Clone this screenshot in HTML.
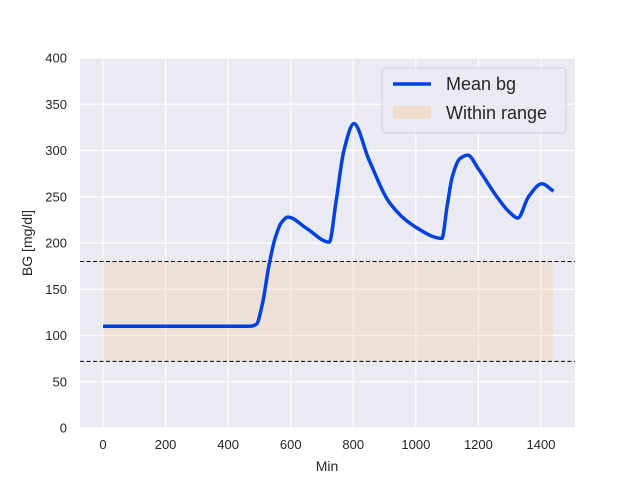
<!DOCTYPE html>
<html><head><meta charset="utf-8"><style>
body{margin:0;background:#fff;font-family:"Liberation Sans","DejaVu Sans",sans-serif}
</style></head><body>
<svg id="c" width="640" height="480" xmlns="http://www.w3.org/2000/svg" font-family="Liberation Sans, DejaVu Sans, sans-serif">
<rect x="80" y="58" width="495" height="370" fill="#eaeaf2"/>
<g id="grid"></g>
<g id="band"></g>
<g id="series"></g>
<g id="ticks" font-size="13" fill="#262626"></g>
<text x="327" y="471" text-anchor="middle" font-size="14" fill="#262626">Min</text>
<text transform="translate(32,243) rotate(-90)" text-anchor="middle" font-size="14" fill="#262626">BG [mg/dl]</text>
<g>
<rect x="382" y="68" width="184" height="65" rx="4" fill="#eaeaf2" fill-opacity="0.8" stroke="#d0d0d8"/>
<line x1="393" y1="84" x2="431" y2="84" stroke="#0041e0" stroke-width="3.5"/>
<text x="446" y="90" font-size="18" fill="#262626">Mean bg</text>
<rect x="393" y="106" width="38" height="13" fill="#efdccd"/>
<text x="446" y="119" font-size="18" fill="#262626">Within range</text>
</g>
</svg>
<script>
const minutes=[0,100,200,300,400,470,490,510,530,550,570,591,650,723,745,770,802,850,917,991,1083,1100,1116,1140,1166,1200,1259,1300,1326,1360,1403,1440];
const meanBg=[110,110,110,110,110,110,112,135,175,205,222,228,216,201,245,300,329,290,243,219,205,240,271,291,295,280,250,233,227,250,264,256];
const rangeLow=72, rangeHigh=180;
const xTicks=[0,200,400,600,800,1000,1200,1400];
const yTicks=[0,50,100,150,200,250,300,350,400];
const X=v=>103+v*438/1400, Y=v=>428-v*0.925;
const NS="http://www.w3.org/2000/svg";
function mk(t,a,p){const e=document.createElementNS(NS,t);for(const k in a)e.setAttribute(k,a[k]);p.appendChild(e);return e;}
const g=document.getElementById('grid'),tk=document.getElementById('ticks');
xTicks.forEach(v=>{const l=mk('line',{x1:X(v),x2:X(v),y1:58,y2:428,stroke:'#fff','stroke-width':1.2},g);


const t=mk('text',{x:X(v),y:449,'text-anchor':'middle'},tk);t.textContent=v;

});
yTicks.forEach(v=>{const l=mk('line',{x1:80,x2:575,y1:Y(v),y2:Y(v),stroke:'#fff','stroke-width':1.2},g);


const t=mk('text',{x:67,y:Y(v)+4.5,'text-anchor':'end'},tk);t.textContent=v;

});
const b=document.getElementById('band');
const r=mk('rect',{x:X(0),y:Y(rangeHigh),width:X(1440)-X(0),height:Y(rangeLow)-Y(rangeHigh),fill:'#f4caa0','fill-opacity':0.3},b);


[rangeLow,rangeHigh].forEach(v=>{const l=mk('line',{x1:80,x2:575,y1:Y(v),y2:Y(v),stroke:'#000','stroke-width':1,'stroke-dasharray':'4,2.5'},b);

});
const n=minutes.length,xs=minutes.map(X),ys=meanBg.map(Y);
const dl=[],m=[];
for(let i=0;i<n-1;i++)dl.push((ys[i+1]-ys[i])/(xs[i+1]-xs[i]));
m[0]=dl[0];m[n-1]=dl[n-2];
for(let i=1;i<n-1;i++){if(dl[i-1]*dl[i]<=0)m[i]=0;else{const w1=2*(xs[i+1]-xs[i])+(xs[i]-xs[i-1]),w2=(xs[i+1]-xs[i])+2*(xs[i]-xs[i-1]);m[i]=(w1+w2)/(w1/dl[i-1]+w2/dl[i]);}}
let d='M'+xs[0]+','+ys[0];
for(let i=0;i<n-1;i++){const h=(xs[i+1]-xs[i])/3;
d+=` C${xs[i]+h},${ys[i]+m[i]*h} ${xs[i+1]-h},${ys[i+1]-m[i+1]*h} ${xs[i+1]},${ys[i+1]}`;}
const path=mk('path',{d:d,fill:'none',stroke:'#0041e0','stroke-width':3.5,'stroke-linejoin':'round'},document.getElementById('series'));


</script>
</body></html>
